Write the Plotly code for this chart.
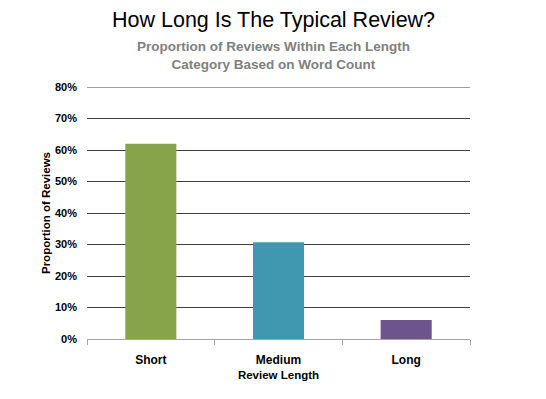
import plotly.graph_objects as go

categories = ["Short", "Medium", "Long"]
proportions = [0.62, 0.307, 0.06]
bar_colors = ["#87A44B", "#3F97B0", "#6D548D"]
y_max = 0.8

title_text = "How Long Is The Typical Review?"
subtitle_lines = ["Proportion of Reviews Within Each Length", "Category Based on Word Count"]

# The page body adds an 8px margin, so the figure is drawn 8px in from the window edges.
W, H = 530, 383
ML, MR, MT, MB = 79, 68, 79, 46

fig = go.Figure(
    go.Bar(
        x=categories,
        y=proportions,
        marker=dict(color=bar_colors, line=dict(width=0)),
        width=0.4,
    )
)

fig.update_layout(
    width=W,
    height=H,
    margin=dict(l=ML, r=MR, t=MT, b=MB),
    paper_bgcolor="white",
    plot_bgcolor="white",
    showlegend=False,
)

plot_h = H - MT - MB
plot_w = W - ML - MR
def py(pix_from_top):
    return (H - MB - pix_from_top) / plot_h
def px(pix_from_left):
    return (pix_from_left - ML) / plot_w

fig.add_annotation(text=title_text, x=px(265), y=py(10), xref="paper", yref="paper",
                   showarrow=False, xanchor="center", yanchor="middle",
                   font=dict(family="Liberation Sans, Arial", size=21.5, color="#000"))
fig.add_annotation(text="<br>".join("<b>" + s + "</b>" for s in subtitle_lines),
                   x=px(265), y=py(47), xref="paper", yref="paper",
                   showarrow=False, xanchor="center", yanchor="middle", align="center",
                   font=dict(family="Liberation Sans, Arial", size=13.5, color="#808080"))

# top gridline (plotly omits gridlines lying on the plot edge)
fig.add_shape(type="line", xref="paper", x0=0, x1=1, yref="y", y0=y_max, y1=y_max,
              line=dict(color="#404040", width=1), layer="below")

fig.update_xaxes(
    type="category",
    range=[-0.5, 2.5],
    showline=True,
    linecolor="#A6A6A6",
    linewidth=1,
    ticks="outside",
    tickson="boundaries",
    ticklen=5,
    tickcolor="#A6A6A6",
    showgrid=False,
    ticklabelstandoff=10,
    tickfont=dict(family="Liberation Sans, Arial", size=12, color="#000", weight="bold"),
    title=dict(text="<b>Review Length</b>", font=dict(family="Liberation Sans, Arial", size=11.5, color="#000"), standoff=4),
)
fig.update_yaxes(
    range=[0, y_max],
    dtick=0.1,
    tickformat=".0%",
    showgrid=True,
    gridcolor="#404040",
    gridwidth=1,
    showline=False,
    zeroline=False,
    ticks="",
    ticklabelstandoff=9,
    tickfont=dict(family="Liberation Sans, Arial", size=11, color="#000", weight="bold"),
    title=dict(text="<b>Proportion of Reviews</b>", font=dict(family="Liberation Sans, Arial", size=11.5, color="#000"), standoff=1),
)

fig.write_html("out.html")
